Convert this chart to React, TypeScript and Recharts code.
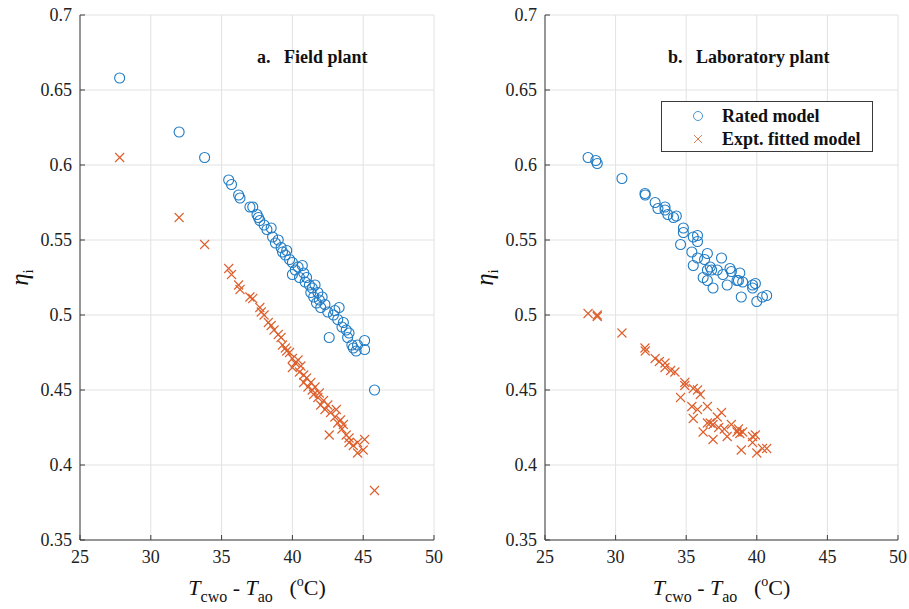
import React from "react";
import {
  ScatterChart,
  Scatter,
  XAxis,
  YAxis,
  CartesianGrid,
  Legend,
} from "recharts";

const X_TICKS = [25, 30, 35, 40, 45, 50];
const Y_TICKS = [0.35, 0.4, 0.45, 0.5, 0.55, 0.6, 0.65, 0.7];

// a. field plant, [dT, eta]
const fieldRated: [number, number][] = [
  [27.8, 0.658], [32.0, 0.622], [33.8, 0.605],
  [35.5, 0.59], [35.7, 0.587], [36.2, 0.58], [36.3, 0.578], [37.0, 0.572],
  [37.2, 0.572], [37.5, 0.567], [37.6, 0.565], [37.7, 0.563], [38.0, 0.56],
  [38.2, 0.557], [38.5, 0.558], [38.6, 0.552], [38.8, 0.548], [39.0, 0.55],
  [39.2, 0.545], [39.3, 0.542], [39.5, 0.54], [39.6, 0.543], [39.8, 0.537],
  [40.0, 0.535], [40.0, 0.527], [40.2, 0.53], [40.4, 0.532], [40.5, 0.525],
  [40.7, 0.533], [40.8, 0.528], [40.9, 0.522], [41.0, 0.525], [41.2, 0.52],
  [41.3, 0.515], [41.4, 0.518], [41.5, 0.512], [41.6, 0.52], [41.7, 0.508],
  [41.8, 0.515], [41.9, 0.51], [42.0, 0.505], [42.1, 0.512], [42.3, 0.507],
  [42.5, 0.502], [42.6, 0.485], [42.9, 0.5], [43.0, 0.503], [43.2, 0.497],
  [43.3, 0.505], [43.5, 0.492], [43.6, 0.495], [43.8, 0.49], [43.9, 0.485],
  [44.0, 0.488], [44.2, 0.48], [44.3, 0.478], [44.5, 0.476], [44.6, 0.48],
  [45.1, 0.483], [45.1, 0.477], [45.8, 0.45],
];

const fieldFitted: [number, number][] = [
  [27.8, 0.605], [32.0, 0.565], [33.8, 0.547],
  [35.5, 0.531], [35.7, 0.527], [36.2, 0.52], [36.3, 0.517], [37.0, 0.512],
  [37.2, 0.511], [37.7, 0.505], [37.8, 0.502], [38.0, 0.5], [38.3, 0.495],
  [38.5, 0.493], [38.7, 0.49], [39.0, 0.487], [39.2, 0.485], [39.3, 0.48],
  [39.5, 0.478], [39.6, 0.476], [39.8, 0.475], [40.0, 0.471], [40.0, 0.465],
  [40.2, 0.468], [40.4, 0.47], [40.5, 0.462], [40.6, 0.466], [40.8, 0.46],
  [40.8, 0.455], [41.0, 0.458], [41.1, 0.452], [41.3, 0.455], [41.4, 0.45],
  [41.5, 0.447], [41.6, 0.452], [41.8, 0.445], [41.9, 0.448], [42.0, 0.44],
  [42.2, 0.443], [42.3, 0.437], [42.5, 0.44], [42.7, 0.435], [42.6, 0.42],
  [43.0, 0.432], [43.1, 0.437], [43.2, 0.428], [43.4, 0.43], [43.5, 0.424],
  [43.6, 0.427], [43.8, 0.42], [44.0, 0.418], [44.0, 0.415], [44.3, 0.413],
  [44.6, 0.408], [44.6, 0.415], [45.1, 0.417], [45.0, 0.41], [45.8, 0.383],
];

// b. laboratory plant
const labRated: [number, number][] = [
  [28.05, 0.605], [28.6, 0.603], [28.7, 0.601], [30.45, 0.591], [32.08, 0.581],
  [32.1, 0.58], [32.8, 0.575], [33.0, 0.571], [33.5, 0.57], [33.5, 0.572],
  [33.7, 0.567], [34.1, 0.565], [34.3, 0.566], [34.8, 0.558], [34.8, 0.555],
  [34.6, 0.547], [35.5, 0.552], [35.8, 0.553], [35.8, 0.549], [35.4, 0.542],
  [35.8, 0.538], [35.5, 0.533], [36.5, 0.541], [36.3, 0.537], [37.5, 0.538],
  [36.7, 0.532], [36.2, 0.525], [36.5, 0.523], [36.9, 0.518], [36.5, 0.53],
  [36.8, 0.53], [37.2, 0.53], [37.6, 0.527], [37.9, 0.52], [38.1, 0.531],
  [38.2, 0.529], [38.6, 0.523], [38.8, 0.528], [38.7, 0.523], [39.0, 0.522],
  [39.7, 0.52], [39.9, 0.521], [39.7, 0.518], [38.9, 0.512], [40.0, 0.509],
  [40.4, 0.512], [40.7, 0.513],
];

const labFitted: [number, number][] = [
  [28.05, 0.501], [28.7, 0.499], [28.7, 0.5], [30.45, 0.488], [32.08, 0.478],
  [32.1, 0.476], [32.8, 0.471], [33.1, 0.469], [33.5, 0.468], [33.5, 0.465],
  [33.9, 0.463], [34.2, 0.462], [34.9, 0.455], [34.9, 0.453], [34.6, 0.445],
  [35.5, 0.451], [35.8, 0.45], [36.0, 0.447], [35.4, 0.439], [35.8, 0.437],
  [35.5, 0.431], [36.5, 0.439], [37.5, 0.435], [37.2, 0.432], [36.7, 0.428],
  [36.2, 0.422], [36.9, 0.417], [36.5, 0.428], [36.9, 0.427], [37.3, 0.425],
  [37.7, 0.424], [37.9, 0.419], [38.2, 0.427], [38.6, 0.422], [38.7, 0.424],
  [38.8, 0.421], [39.0, 0.422], [39.7, 0.419], [39.9, 0.42], [39.7, 0.415],
  [38.9, 0.41], [40.0, 0.408], [40.4, 0.411], [40.7, 0.411],
];

const SERIF = "Liberation Serif, Times New Roman, serif";
const BLUE = "#1f7bc4";
const ORANGE = "#dd5f2c";
const AXIS = "#3c3c3c";
const GRID = "#e2e2e2";

const toPoints = (arr: [number, number][]) => arr.map(([x, y]) => ({ x, y }));

const Circle = (props: any) => (
  <circle cx={props.cx} cy={props.cy} r={5} fill="none" stroke={BLUE} strokeWidth={1.1} />
);

const Cross = (props: any) => {
  const { cx, cy } = props;
  const s = 4.5;
  return (
    <g stroke={ORANGE} strokeWidth={1.1}>
      <line x1={cx - s} y1={cy - s} x2={cx + s} y2={cy + s} />
      <line x1={cx - s} y1={cy + s} x2={cx + s} y2={cy - s} />
    </g>
  );
};

const fmtY = (v: number) => String(+v.toFixed(2));

// tick labels drawn by hand so the serif face sticks
function XTick({ x, y, payload }: any) {
  return (
    <text x={x} y={y + 13} textAnchor="middle" fill="#222" fontSize={18} style={{ fontFamily: SERIF }}>
      {payload.value}
    </text>
  );
}

function YTick({ x, y, payload }: any) {
  return (
    <text x={x} y={y + 6} textAnchor="end" fill="#222" fontSize={18} style={{ fontFamily: SERIF }}>
      {fmtY(payload.value)}
    </text>
  );
}

function EtaLabel({ viewBox }: any) {
  const x = viewBox.x + 28;
  const y = viewBox.y + viewBox.height / 2;
  return (
    <text
      x={x}
      y={y}
      transform={`rotate(-90, ${x}, ${y})`}
      textAnchor="middle"
      fill="#111"
      style={{ fontFamily: SERIF }}
    >
      <tspan fontSize={25} fontStyle="italic">η</tspan>
      <tspan fontSize={15} dy={5}>i</tspan>
    </text>
  );
}

function DeltaTLabel({ viewBox }: any) {
  const x = viewBox.x + viewBox.width / 2;
  const y = viewBox.y + 55;
  return (
    <text x={x} y={y} textAnchor="middle" fill="#111" style={{ whiteSpace: "pre", fontFamily: SERIF }}>
      <tspan fontSize={22} fontStyle="italic">T</tspan>
      <tspan fontSize={16} dy={7}>cwo</tspan>
      <tspan fontSize={22} dy={-7}> - </tspan>
      <tspan fontSize={22} fontStyle="italic">T</tspan>
      <tspan fontSize={16} dy={7}>ao</tspan>
      <tspan fontSize={22} dy={-7}>{"   ("}</tspan>
      <tspan fontSize={14} dy={-9}>o</tspan>
      <tspan fontSize={22} dy={9}>C)</tspan>
    </text>
  );
}

function LegendBox() {
  const rows = [
    { name: "Rated model", marker: "o" },
    { name: "Expt. fitted model", marker: "x" },
  ];
  return (
    <div
      style={{
        width: 210,
        height: 49,
        border: "1px solid #3a3a3a",
        background: "#fff",
        position: "relative",
        fontFamily: SERIF,
        fontWeight: "bold",
        fontSize: 18,
        color: "#111",
      }}
    >
      {rows.map((r, i) => (
        <div
          key={r.name}
          style={{ position: "absolute", left: 0, top: 3 + i * 23, height: 22, display: "flex", alignItems: "center" }}
        >
          <svg width={60} height={22}>
            {r.marker === "o" ? (
              <circle cx={36} cy={11} r={4.5} fill="none" stroke="#4a96d0" strokeWidth={1} />
            ) : (
              <g stroke="#e07a50" strokeWidth={1}>
                <line x1={32} y1={7} x2={40} y2={15} />
                <line x1={32} y1={15} x2={40} y2={7} />
              </g>
            )}
          </svg>
          <span style={{ whiteSpace: "nowrap" }}>{r.name}</span>
        </div>
      ))}
    </div>
  );
}

function Panel({
  rated,
  fitted,
  tag,
  name,
  left,
  width,
  rightMargin,
  titleLeft,
  legend,
}: {
  rated: [number, number][];
  fitted: [number, number][];
  tag: string;
  name: string;
  left: number;
  width: number;
  rightMargin: number;
  titleLeft: number;
  legend?: boolean;
}) {
  return (
    <div style={{ position: "absolute", left, top: 0, fontFamily: SERIF }}>
      <ScatterChart width={width} height={609} margin={{ top: 15, right: rightMargin, bottom: 0, left: 0 }}>
        <CartesianGrid stroke={GRID} />
        <XAxis
          type="number"
          dataKey="x"
          domain={[25, 50]}
          ticks={X_TICKS}
          allowDataOverflow
          height={69}
          tick={<XTick />}
          tickSize={-5}
          tickMargin={15}
          stroke={AXIS}
          label={{ content: <DeltaTLabel /> }}
        />
        <XAxis
          xAxisId="top"
          orientation="top"
          type="number"
          domain={[25, 50]}
          ticks={X_TICKS}
          allowDataOverflow
          height={0}
          tickFormatter={() => ""}
          tickSize={-5}
          stroke={AXIS}
        />
        <YAxis
          type="number"
          dataKey="y"
          domain={[0.35, 0.7]}
          ticks={Y_TICKS}
          allowDataOverflow
          width={80}
          tick={<YTick />}
          tickSize={-5}
          tickMargin={13}
          stroke={AXIS}
          label={{ content: <EtaLabel /> }}
        />
        <YAxis
          yAxisId="right"
          orientation="right"
          type="number"
          domain={[0.35, 0.7]}
          ticks={Y_TICKS}
          allowDataOverflow
          width={0}
          tickFormatter={() => ""}
          tickSize={-5}
          stroke={AXIS}
        />
        <Scatter name="Rated model" data={toPoints(rated)} shape={Circle} isAnimationActive={false} />
        <Scatter name="Expt. fitted model" data={toPoints(fitted)} shape={Cross} isAnimationActive={false} />
        {legend && (
          <Legend
            layout="vertical"
            align="center"
            verticalAlign="middle"
            wrapperStyle={{ left: 196, top: 101, width: 212, height: 51 }}
            content={() => <LegendBox />}
          />
        )}
      </ScatterChart>
      <div
        style={{
          position: "absolute",
          left: titleLeft,
          top: 47,
          fontFamily: SERIF,
          fontWeight: "bold",
          fontSize: 18,
          color: "#111",
          whiteSpace: "pre",
        }}
      >
        {`${tag}   ${name}`}
      </div>
    </div>
  );
}

export default function App() {
  return (
    <div
      style={{
        position: "absolute",
        left: 0,
        top: 0,
        width: 909,
        height: 609,
        background: "#fff",
        overflow: "hidden",
      }}
    >
      <Panel
        rated={fieldRated}
        fitted={fieldFitted}
        tag="a."
        name="Field plant"
        left={0}
        width={450}
        rightMargin={16}
        titleLeft={257}
      />
      <Panel
        rated={labRated}
        fitted={labFitted}
        tag="b."
        name="Laboratory plant"
        left={465}
        width={444}
        rightMargin={11}
        titleLeft={203}
        legend
      />
    </div>
  );
}
